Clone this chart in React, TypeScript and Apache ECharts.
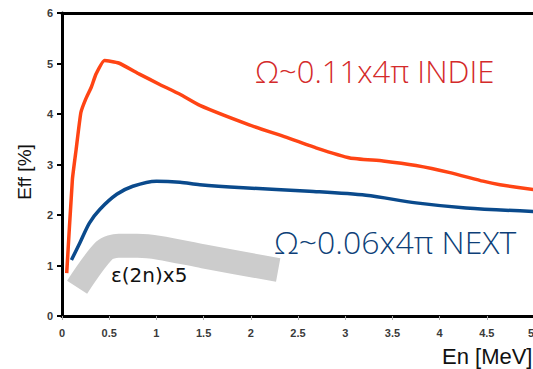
import React, { useEffect, useRef } from "react";
import * as echarts from "echarts";

const xTicks = ["0", "0.5", "1", "1.5", "2", "2.5", "3", "3.5", "4", "4.5", "5"];
const indieX = [0.05, 0.11, 0.15, 0.2, 0.25, 0.31, 0.36, 0.45, 0.6, 0.82, 1.03, 1.25, 1.46, 1.99, 2.34, 2.69, 3.05, 3.4, 3.75, 4.11, 4.46, 4.64, 5.0];
const indieY = [0.85, 2.7, 3.3, 4.03, 4.29, 4.53, 4.79, 5.06, 5.01, 4.79, 4.59, 4.39, 4.17, 3.78, 3.56, 3.33, 3.13, 3.07, 2.98, 2.84, 2.67, 2.6, 2.5];
const nextX = [0.1, 0.19, 0.29, 0.4, 0.58, 0.75, 1.0, 1.25, 1.46, 1.92, 2.62, 3.22, 3.75, 4.28, 5.0];
const nextY = [1.11, 1.45, 1.84, 2.11, 2.41, 2.57, 2.67, 2.65, 2.6, 2.54, 2.47, 2.39, 2.24, 2.14, 2.07];
const twoNX = [0.16, 0.45, 0.6, 0.8, 1.03, 1.5, 2.29];
const twoNY = [0.57, 1.3, 1.39, 1.39, 1.35, 1.18, 0.91];

const zip = (xs: number[], ys: number[]) => xs.map((x, i) => [x, ys[i]]);

export default function App() {
  const ref = useRef<HTMLDivElement>(null);
  useEffect(() => {
    if (!ref.current) return;
    const chart = echarts.init(ref.current, undefined, { renderer: "svg" });
    const labelStyle = {
      color: "#3a3a3a",
      fontSize: 11,
      fontWeight: "bold" as const,
      fontFamily: "Liberation Sans",
    };
    chart.setOption({
      animation: false,
      backgroundColor: "#ffffff",
      grid: { left: 62, top: 13, right: -1, bottom: 53, containLabel: false, outerBoundsMode: "none" },
      xAxis: [
        {
          type: "value",
          min: 0,
          max: 5,
          interval: 0.5,
          axisLine: { show: true, onZero: false, lineStyle: { color: "#000", width: 3 } },
          axisTick: { show: true, length: 4, lineStyle: { color: "#aaaaaa", width: 1 } },
          axisLabel: {
            ...labelStyle,
            margin: 11,
            alignMaxLabel: "right",
            formatter: (v: number) => xTicks[Math.round(v * 2)] ?? "",
          },
          splitLine: { show: false },
        },
        {
          type: "value",
          position: "top",
          min: 0,
          max: 5,
          axisLine: { show: true, onZero: false, lineStyle: { color: "#000", width: 3 } },
          axisTick: { show: false },
          axisLabel: { show: false },
          splitLine: { show: false },
        },
      ],
      yAxis: {
        type: "value",
        min: 0,
        max: 6,
        interval: 1,
        axisLine: { show: true, lineStyle: { color: "#000", width: 3 } },
        axisTick: { show: true, length: 5, lineStyle: { color: "#000", width: 2 } },
        axisLabel: { ...labelStyle, margin: 9 },
        splitLine: { show: false },
      },
      series: [
        {
          type: "line",
          data: zip(twoNX, twoNY),
          symbol: "none",
          smooth: 0.3,
          z: 1,
          lineStyle: { color: "#cccccc", width: 24, cap: "butt", join: "round" },
        },
        {
          type: "line",
          data: zip(nextX, nextY),
          symbol: "none",
          smooth: 0.3,
          z: 2,
          lineStyle: { color: "#0a4a8c", width: 3.5, join: "round" },
        },
        {
          type: "line",
          data: zip(indieX, indieY),
          symbol: "none",
          smooth: 0.15,
          z: 3,
          lineStyle: { color: "#ff4414", width: 3.5, join: "round" },
        },
      ],
      graphic: [
        {
          type: "text",
          left: 255,
          top: 55,
          style: { text: "Ω~0.11x4π INDIE", fill: "#d42a2a", font: "300 31px 'Open Sans'" },
        },
        {
          type: "text",
          left: 274,
          top: 225,
          style: { text: "Ω~0.06x4π NEXT", fill: "#0d3f78", font: "300 32px 'Open Sans'" },
        },
        {
          type: "text",
          left: 111,
          top: 265,
          style: { text: "ε(2n)x5", fill: "#111", font: "20px 'DejaVu Sans'" },
        },
        {
          type: "text",
          x: 442,
          y: 345,
          style: { text: "En [MeV]", fill: "#111", font: "22px 'Liberation Sans'" },
        },
        {
          type: "text",
          x: 24,
          y: 172,
          rotation: Math.PI / 2,
          style: {
            text: "Eff [%]",
            fill: "#111",
            font: "19px 'Liberation Sans'",
            align: "center",
            verticalAlign: "middle",
          },
        },
      ],
    });
    return () => chart.dispose();
  }, []);
  return <div ref={ref} style={{ width: 533, height: 369, position: "absolute", left: 0, top: 0 }} />;
}
